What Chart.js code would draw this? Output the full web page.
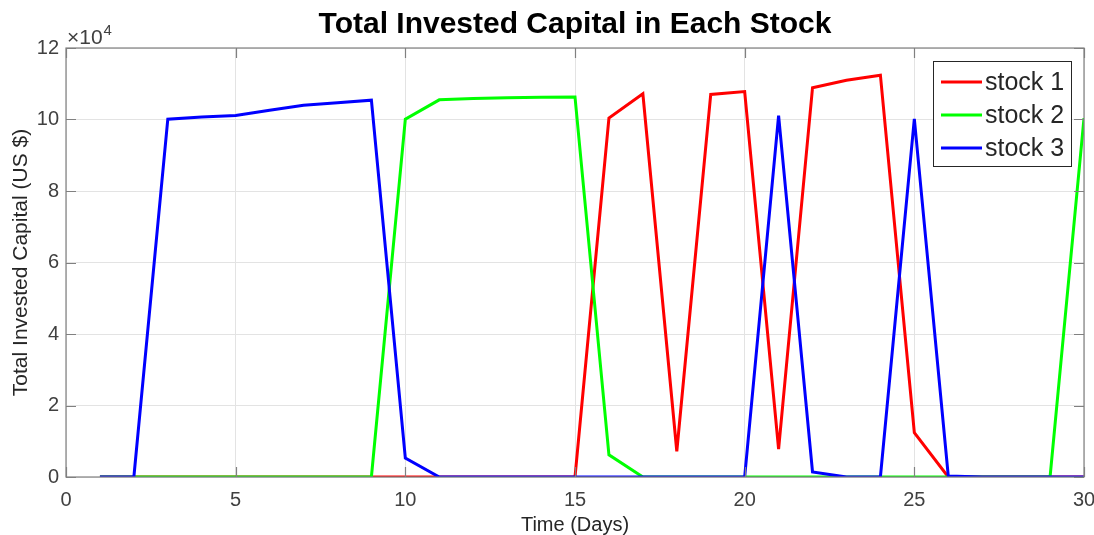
<!DOCTYPE html>
<html>
<head>
<meta charset="utf-8">
<script src="https://cdn.jsdelivr.net/npm/chart.js@4"></script>
<style>
  html, body { margin: 0; padding: 0; background: #fff; }
  #wrap { width: 1094px; height: 535px; position: relative; }
</style>
</head>
<body>
<div id="wrap"><canvas id="c" width="1094" height="535"></canvas></div>
<script>
// Trading days
const days = [1,2,3,4,5,6,7,8,9,10,11,12,13,14,15,16,17,18,19,20,21,22,23,24,25,26,27,28,29,30];

// Invested capital per stock (US $)
const stock1 = [0,0,0,0,0,0,0,0,0,0,0,0,0,0,0,
  100400,107200,7200,107000,107800,7800,108900,111000,112400,12400,0,0,0,0,0];
const stock2 = [0,0,0,0,0,0,0,0,0,100100,105500,105900,106100,106200,106300,
  6200,0,0,0,0,0,0,0,0,0,0,0,0,0,100400];
const stock3 = [0,0,100100,100700,101100,102600,104000,104700,105400,5300,0,0,0,0,0,
  0,0,0,0,0,101100,1400,0,0,100200,300,0,0,0,0];

const seriesNames = ['stock 1', 'stock 2', 'stock 3'];
const seriesColors = ['#ff0000', '#00ff00', '#0000ff'];
const xTicks = [0, 5, 10, 15, 20, 25, 30];
const yTicks = [0, 20000, 40000, 60000, 80000, 100000, 120000];

const titleText = 'Total Invested Capital in Each Stock';
const xLabel = 'Time (Days)';
const yLabel = 'Total Invested Capital (US $)';

const FONT = '"Liberation Sans", Arial, Helvetica, sans-serif';
const TEXT = '#262626';
const AXIS = '#808080';

function toPoints(vals) { return days.map((d, i) => ({ x: d, y: vals[i] })); }

// Title, axis labels, exponent, box with inward ticks, legend
const decorations = {
  id: 'decorations',
  afterDatasetsDraw(chart) {
    const ctx = chart.ctx;
    const a = chart.chartArea;
    const xs = chart.scales.x, ys = chart.scales.y;
    ctx.save();

    // axes box
    ctx.strokeStyle = AXIS;
    ctx.lineWidth = 1.2;
    ctx.strokeRect(a.left, a.top, a.right - a.left, a.bottom - a.top);

    // inward tick marks on all four sides
    const tl = 10;
    ctx.beginPath();
    xTicks.forEach(v => {
      const px = Math.round(xs.getPixelForValue(v)) + 0.5;
      ctx.moveTo(px, a.bottom); ctx.lineTo(px, a.bottom - tl);
      ctx.moveTo(px, a.top); ctx.lineTo(px, a.top + tl);
    });
    yTicks.forEach(v => {
      const py = Math.round(ys.getPixelForValue(v)) + 0.5;
      ctx.moveTo(a.left, py); ctx.lineTo(a.left + tl, py);
      ctx.moveTo(a.right, py); ctx.lineTo(a.right - tl, py);
    });
    ctx.stroke();

    // title
    ctx.fillStyle = '#000';
    ctx.font = 'bold 30px ' + FONT;
    ctx.textAlign = 'center';
    ctx.textBaseline = 'alphabetic';
    ctx.fillText(titleText, (a.left + a.right) / 2, 33);

    // x label
    ctx.fillStyle = TEXT;
    ctx.font = '20px ' + FONT;
    ctx.textBaseline = 'middle';
    ctx.fillText(xLabel, (a.left + a.right) / 2, 525);

    // y label
    ctx.save();
    ctx.translate(21, (a.top + a.bottom) / 2);
    ctx.rotate(-Math.PI / 2);
    ctx.font = '21px ' + FONT;
    ctx.fillText(yLabel, 0, 0);
    ctx.restore();

    // exponent
    ctx.textAlign = 'left';
    ctx.textBaseline = 'alphabetic';
    ctx.font = '21px ' + FONT;
    ctx.fillStyle = '#404040';
    ctx.fillText('\u00d710', 67, 44);
    const w = ctx.measureText('\u00d710').width;
    ctx.font = '15px ' + FONT;
    ctx.fillText('4', 67 + w + 1, 35);

    // legend
    const lx = 933, ly = 61, lw = 138, lh = 105;
    ctx.fillStyle = '#fff';
    ctx.fillRect(lx, ly, lw, lh);
    ctx.strokeStyle = '#262626';
    ctx.lineWidth = 1;
    ctx.strokeRect(lx + 0.5, ly + 0.5, lw, lh);
    ctx.font = '25px ' + FONT;
    ctx.textBaseline = 'middle';
    chart.data.datasets.forEach((ds, i) => {
      const cy = ly + 21 + i * 33;
      ctx.strokeStyle = ds.borderColor;
      ctx.lineWidth = 3;
      ctx.beginPath();
      ctx.moveTo(lx + 8, cy); ctx.lineTo(lx + 49, cy);
      ctx.stroke();
      ctx.fillStyle = TEXT;
      ctx.fillText(ds.label, lx + 52, cy + 1);
    });

    ctx.restore();
  }
};

new Chart(document.getElementById('c'), {
  type: 'line',
  data: {
    datasets: [
      { label: seriesNames[0], data: toPoints(stock1), borderColor: seriesColors[0], order: 3 },
      { label: seriesNames[1], data: toPoints(stock2), borderColor: seriesColors[1], order: 2 },
      { label: seriesNames[2], data: toPoints(stock3), borderColor: seriesColors[2], order: 1 }
    ]
  },
  options: {
    responsive: false,
    animation: false,
    devicePixelRatio: 1,
    layout: { padding: { left: 0, top: 48, right: 10, bottom: 0 } },
    elements: {
      line: { borderWidth: 3, tension: 0, fill: false, borderJoinStyle: 'miter' },
      point: { radius: 0, hoverRadius: 0 }
    },
    plugins: { legend: { display: false }, title: { display: false }, tooltip: { enabled: false } },
    scales: {
      x: {
        type: 'linear', min: 0, max: 30,
        afterFit(s) { s.height = 58; s.paddingLeft = 0; s.paddingRight = 0; },
        afterBuildTicks(s) { s.ticks = xTicks.map(v => ({ value: v })); },
        border: { display: false },
        grid: { color: '#e3e3e3', lineWidth: 1, drawTicks: false },
        ticks: { color: '#404040', font: { family: FONT, size: 20 }, padding: 11, maxRotation: 0 }
      },
      y: {
        type: 'linear', min: 0, max: 120000,
        afterFit(s) { s.width = 66; s.paddingTop = 0; s.paddingBottom = 0; },
        afterBuildTicks(s) { s.ticks = yTicks.map(v => ({ value: v })); },
        border: { display: false },
        grid: { color: '#e3e3e3', lineWidth: 1, drawTicks: false },
        ticks: { color: '#404040', font: { family: FONT, size: 20 }, padding: 7,
          callback: v => String(v / 10000) }
      }
    }
  },
  plugins: [decorations]
});
</script>
</body>
</html>
